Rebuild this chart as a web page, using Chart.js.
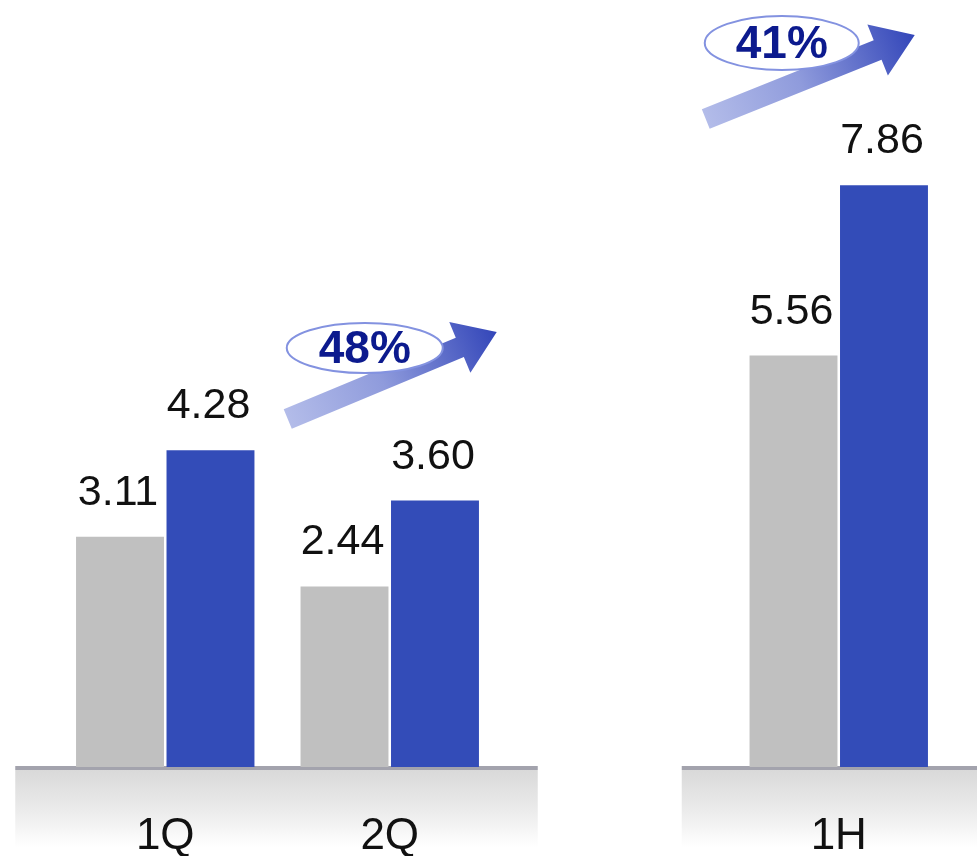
<!DOCTYPE html>
<html>
<head>
<meta charset="utf-8">
<script src="https://cdn.jsdelivr.net/npm/chart.js@4/dist/chart.umd.min.js"></script>
<style>
html,body{margin:0;padding:0;background:#fff;}
#c{display:block;}
</style>
</head>
<body>
<canvas id="c" width="977" height="856"></canvas>
<script>
// ---- data ----
const categories = ['1Q', '2Q', '', '1H'];
const prevValues = [3.11, 2.44, null, 5.56];
const currValues = [4.28, 3.60, null, 7.86];
const valueLabels = [['3.11', '2.44', null, '5.56'], ['4.28', '3.60', null, '7.86']];
const growthLabels = ['48%', '41%'];

const FONT = "'Liberation Sans', Arial, sans-serif";

const decor = {
  id: 'decor',
  beforeDatasetsDraw(chart) {
    const ctx = chart.ctx;
    const x = chart.scales.x;
    const base = chart.scales.y.getPixelForValue(0);
    const bands = [
      [x.getPixelForValue(0) - 150, x.getPixelForValue(1) + 148],
      [x.getPixelForValue(3) - 157, chart.width]
    ];
    ctx.save();
    bands.forEach(([l, r]) => {
      const g = ctx.createLinearGradient(0, base + 3, 0, base + 80);
      g.addColorStop(0, '#d9d9d9');
      g.addColorStop(0.55, '#ececec');
      g.addColorStop(1, '#ffffff');
      ctx.fillStyle = g;
      ctx.fillRect(l, base + 3, r - l, chart.height - base - 3);
      ctx.fillStyle = '#a3a3ad';
      ctx.fillRect(l, base - 1, r - l, 4);
    });
    ctx.restore();
  },
  afterDatasetsDraw(chart) {
    const ctx = chart.ctx;
    const x = chart.scales.x;
    const base = chart.scales.y.getPixelForValue(0);
    ctx.save();
    // value labels
    ctx.fillStyle = '#111';
    ctx.font = '43px ' + FONT;
    ctx.textAlign = 'center';
    ctx.textBaseline = 'alphabetic';
    chart.data.datasets.forEach((ds, di) => {
      const meta = chart.getDatasetMeta(di);
      meta.data.forEach((bar, i) => {
        const t = valueLabels[di][i];
        if (t == null) return;
        ctx.fillText(t, bar.x - 2, bar.y - 32);
      });
    });
    // category labels
    ctx.font = '44px ' + FONT;
    categories.forEach((c, i) => {
      if (!c) return;
      ctx.fillText(c, x.getPixelForValue(i), base + 82);
    });
    // growth arrows
    const arrows = [
      { tail: [x.getPixelForValue(1) - 102, 419], tip: [x.getPixelForValue(1) + 107, 332],
        ell: [x.getPixelForValue(1) - 25, 348, 78, 25], text: growthLabels[0] },
      { tail: [x.getPixelForValue(3) - 133, 119], tip: [x.getPixelForValue(3) + 76, 35],
        ell: [x.getPixelForValue(3) - 57, 43, 77, 27], text: growthLabels[1] }
    ];
    arrows.forEach(a => {
      const [tx, ty] = a.tail, [px, py] = a.tip;
      const dx = px - tx, dy = py - ty, L = Math.hypot(dx, dy);
      const ux = dx / L, uy = dy / L, nx = -uy, ny = ux;
      const w = 21, hw = 55, hl = 40;
      const hx = px - ux * hl, hy = py - uy * hl;
      const g = ctx.createLinearGradient(tx, ty, px, py);
      g.addColorStop(0, '#b3bce9');
      g.addColorStop(0.45, '#8f9bdc');
      g.addColorStop(1, '#3346b9');
      ctx.fillStyle = g;
      ctx.beginPath();
      ctx.moveTo(tx + nx * w / 2, ty + ny * w / 2);
      ctx.lineTo(hx + nx * w / 2, hy + ny * w / 2);
      ctx.lineTo(hx + nx * hw / 2, hy + ny * hw / 2);
      ctx.lineTo(px, py);
      ctx.lineTo(hx - nx * hw / 2, hy - ny * hw / 2);
      ctx.lineTo(hx - nx * w / 2, hy - ny * w / 2);
      ctx.lineTo(tx - nx * w / 2, ty - ny * w / 2);
      ctx.closePath();
      ctx.fill();
      const [ex, ey, rx, ry] = a.ell;
      ctx.beginPath();
      ctx.ellipse(ex, ey, rx, ry, 0, 0, Math.PI * 2);
      ctx.fillStyle = '#ffffff';
      ctx.fill();
      ctx.lineWidth = 2;
      ctx.strokeStyle = '#8392e0';
      ctx.stroke();
      ctx.fillStyle = '#0c1a8e';
      ctx.font = 'bold 46px ' + FONT;
      ctx.textAlign = 'center';
      ctx.textBaseline = 'middle';
      ctx.fillText(a.text, ex, ey + 2);
    });
    ctx.restore();
  }
};

new Chart(document.getElementById('c'), {
  type: 'bar',
  data: {
    labels: categories,
    datasets: [
      { label: 'Prev', data: prevValues, backgroundColor: '#c0c0c0', borderWidth: 0 },
      { label: 'Curr', data: currValues, backgroundColor: '#334cb8', borderWidth: 0 }
    ]
  },
  options: {
    responsive: false,
    animation: false,
    events: [],
    layout: { padding: { left: 53, right: 26, top: 27, bottom: 89 } },
    datasets: { bar: { categoryPercentage: 0.806, barPercentage: 0.972 } },
    scales: {
      x: { display: false },
      y: { display: false, min: 0, max: 10 }
    },
    plugins: { legend: { display: false }, tooltip: { enabled: false } }
  },
  plugins: [decor]
});
</script>
</body>
</html>
